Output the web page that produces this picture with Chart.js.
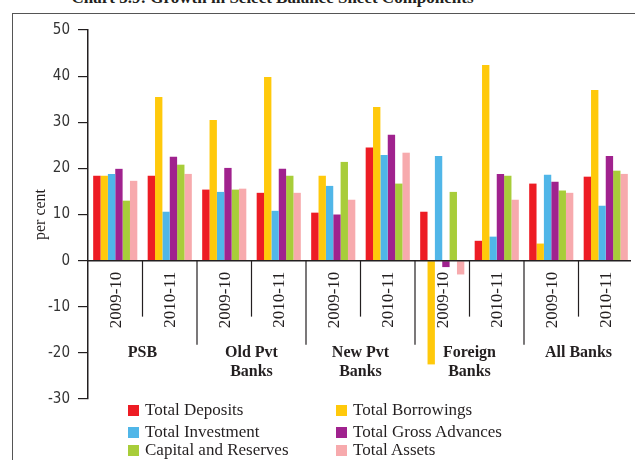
<!DOCTYPE html>
<html>
  <head>
    <script src="https://cdn.jsdelivr.net/npm/chart.js@4.4.0/dist/chart.umd.min.js"></script>
    <style>
      body { margin: 0; background: #fff; }
      .wrap { position: relative; width: 635px; height: 460px; overflow: hidden; font-family: "Liberation Serif", serif; color: #231f20; }
      .frame { position: absolute; left: 12px; top: 13px; width: 640px; height: 460px; border-left: 1.5px solid #555; border-top: 1.5px solid #555; }
      .title { position: absolute; left: 0; width: 545px; top: -12px; text-align: center; font-weight: bold; font-size: 17px; line-height: 20px; white-space: nowrap; }
      canvas { position: absolute; left: 0; top: 0; }
      .leg { position: absolute; font-size: 17px; line-height: 18px; white-space: nowrap; }
      .leg span { position: absolute; width: 11px; height: 11px; left: -17px; top: 4px; }
    </style>
  </head>
  <body>
    <div class="wrap">
      <div class="title">Chart 3.9: Growth in Select Balance Sheet Components</div>
      <div class="frame"></div>
      <canvas id="myChart" width="635" height="460"></canvas>
      <div id="legend"></div>
    </div>
    <script>
      // years on the axis, banks below them
      var years = ["2009-10", "2010-11", "2009-10", "2010-11", "2009-10", "2010-11", "2009-10", "2010-11", "2009-10", "2010-11"];
      var banks = [["PSB"], ["Old Pvt", "Banks"], ["New Pvt", "Banks"], ["Foreign", "Banks"], ["All Banks"]];

      var seriesNames = ["Total Deposits", "Total Borrowings", "Total Investment", "Total Gross Advances", "Capital and Reserves", "Total Assets"];
      var seriesColors = ["#ed1c24", "#ffc90b", "#50b6e8", "#a0228e", "#a8cd3a", "#f7aaad"];

      var totalDeposits   = [18.4, 18.4, 15.4, 14.7, 10.4, 24.5, 10.6, 4.3, 16.7, 18.2];
      var totalBorrowings = [18.4, 35.5, 30.5, 39.8, 18.4, 33.3, -22.5, 42.4, 3.7, 37.0];
      var totalInvestment = [18.8, 10.6, 14.9, 10.8, 16.2, 22.9, 22.7, 5.2, 18.6, 11.9];
      var grossAdvances   = [19.9, 22.5, 20.1, 19.9, 10.0, 27.3, -1.4, 18.8, 17.1, 22.7];
      var capitalReserves = [13.0, 20.8, 15.4, 18.4, 21.4, 16.7, 14.9, 18.4, 15.2, 19.5];
      var totalAssets     = [17.3, 18.8, 15.6, 14.7, 13.2, 23.4, -3.0, 13.2, 14.7, 18.8];

      var allSeries = [totalDeposits, totalBorrowings, totalInvestment, grossAdvances, capitalReserves, totalAssets];

      var ink = "#231f20";

      var axisLabels = {
        id: "axisLabels",
        afterDraw: function (chart) {
          var ctx = chart.ctx;
          var xs = chart.scales.x;
          var ys = chart.scales.y;
          var area = chart.chartArea;
          var y0 = ys.getPixelForValue(0);
          ctx.save();
          ctx.strokeStyle = ink;
          ctx.lineWidth = 1.5;
          // zero line
          ctx.beginPath();
          ctx.moveTo(area.left, y0);
          ctx.lineTo(area.right - 2, y0);
          ctx.stroke();
          // separators
          ctx.lineWidth = 1.2;
          for (var i = 1; i < years.length; i++) {
            var xm = (xs.getPixelForValue(i - 1) + xs.getPixelForValue(i)) / 2;
            var len = i % 2 == 1 ? 56 : 84;
            ctx.beginPath();
            ctx.moveTo(xm, y0);
            ctx.lineTo(xm, y0 + len);
            ctx.stroke();
          }
          // year labels
          ctx.fillStyle = ink;
          ctx.font = "17px 'Liberation Serif'";
          ctx.textAlign = "right";
          ctx.textBaseline = "middle";
          for (var j = 0; j < years.length; j++) {
            ctx.save();
            ctx.translate(xs.getPixelForValue(j) + 1, y0 + 11);
            ctx.rotate(-Math.PI / 2);
            ctx.fillText(years[j], 0, 0);
            ctx.restore();
          }
          // bank names
          ctx.font = "bold 16px 'Liberation Serif'";
          ctx.textAlign = "center";
          for (var k = 0; k < banks.length; k++) {
            var xc = (xs.getPixelForValue(2 * k) + xs.getPixelForValue(2 * k + 1)) / 2;
            for (var l = 0; l < banks[k].length; l++) {
              ctx.fillText(banks[k][l], xc, y0 + 92 + l * 19);
            }
          }
          // y title
          ctx.font = "16px 'Liberation Serif'";
          ctx.save();
          ctx.translate(41, (area.top + area.bottom) / 2);
          ctx.rotate(-Math.PI / 2);
          ctx.fillText("per cent", 0, 0);
          ctx.restore();
          ctx.restore();
        },
      };

      var datasets = [];
      for (var s = 0; s < allSeries.length; s++) {
        datasets.push({
          label: seriesNames[s],
          data: allSeries[s],
          backgroundColor: seriesColors[s],
          borderWidth: 0,
          categoryPercentage: 0.81,
          barPercentage: 1.0,
        });
      }

      var ctx = document.getElementById("myChart").getContext("2d");
      var chart = new Chart(ctx, {
        type: "bar",
        data: { labels: years, datasets: datasets },
        plugins: [axisLabels],
        options: {
          responsive: false,
          animation: false,
          layout: { padding: { top: 30, bottom: 61, right: 2, left: 0 } },
          plugins: { legend: { display: false }, tooltip: { enabled: false } },
          scales: {
            x: { display: false },
            y: {
              min: -30,
              max: 50,
              afterFit: function (scale) { scale.width = 88; },
              ticks: { stepSize: 10, color: "#333", padding: 8, font: { family: "'DejaVu Sans Condensed', 'Liberation Sans', sans-serif", size: 15 } },
              grid: { drawOnChartArea: false, drawTicks: true, tickLength: 10, color: ink, lineWidth: 1.2 },
              border: { display: true, color: ink, width: 1.5 },
            },
          },
        },
      });

      // legend, two columns
      var legendPos = [[145, 401], [353, 401], [145, 423], [353, 423], [145, 441], [353, 441]];
      var legend = document.getElementById("legend");
      for (var m = 0; m < seriesNames.length; m++) {
        var item = document.createElement("div");
        item.className = "leg";
        item.style.left = legendPos[m][0] + "px";
        item.style.top = legendPos[m][1] + "px";
        item.innerHTML = "<span style='background:" + seriesColors[m] + "'></span>" + seriesNames[m];
        legend.appendChild(item);
      }
    </script>
  </body>
</html>
